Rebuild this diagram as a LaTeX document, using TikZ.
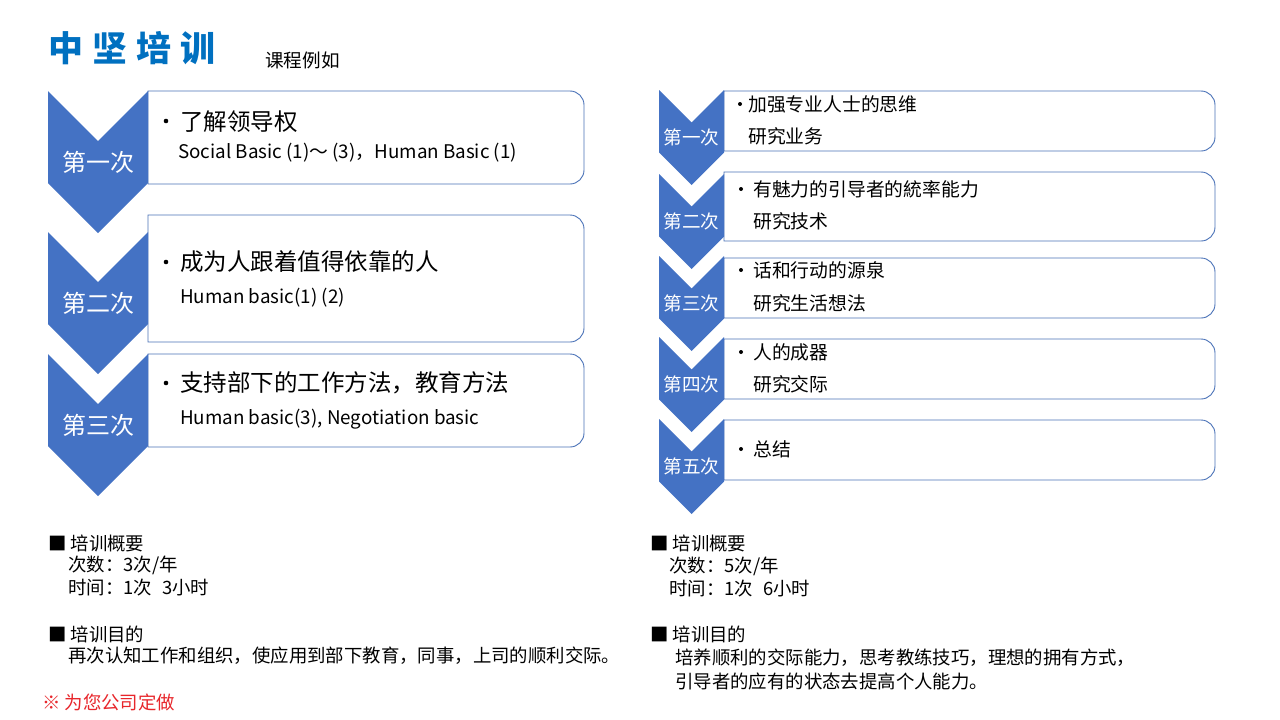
\documentclass[tikz,border=0pt]{standalone}
\usepackage{fontspec}
\setmainfont{Noto Sans CJK SC}
\definecolor{chev}{HTML}{4472C4}
\definecolor{boxln}{HTML}{4A72B8}
\definecolor{ttl}{HTML}{0070C0}
\definecolor{redt}{HTML}{E8262B}
\newcommand\fs[1]{\fontsize{#1}{#1}\selectfont}
% chevron: x, top, width, height
\newcommand\chevshape[4]{%
  \fill[chev] (#1,#2) -- ({#1+#3/2},{#2+#3/2}) -- ({#1+#3},#2) -- ({#1+#3},{#2+#4-#3/2})
    -- ({#1+#3/2},{#2+#4}) -- (#1,{#2+#4-#3/2}) -- cycle;}
% box with rounded right corners: x0, y0, x1, y1
\newcommand\rbox[4]{%
  \draw[boxln, line width=0.9pt] (#1,#2) -- ({#3-14},#2) arc[start angle=270,end angle=360,radius=14]
    -- (#3,{#4-14}) arc[start angle=0,end angle=90,radius=14] -- (#1,#4) -- cycle;}
\tikzset{
  txt/.style={anchor=west, inner sep=0pt, text=black},
  bigt/.style={txt, font=\fs{23.5}},
  subt/.style={txt, font=\fs{18.8}},
  rt/.style={txt, font=\fs{18.8}},
  bt/.style={txt, font=\fs{18.4}},
  dot/.style={circle, fill=black, inner sep=0pt, minimum size=4.6pt},
  lchev/.style={inner sep=0pt, text=white, font=\fs{24}},
  rchev/.style={inner sep=0pt, text=white, font=\fs{18.6}},
}
\begin{document}
\begin{tikzpicture}[x=1pt, y=-1pt]
\useasboundingbox (0,0) rectangle (1280,720);
\fill[white] (0,0) rectangle (1280,720);

% title
\node[txt, text=ttl, font=\fs{35}\bfseries] (title) at (48,48) {中\hspace{9pt}坚\hspace{9pt}培\hspace{9pt}训};
\node[txt, font=\fs{18.6}] (sub) at (265,60) {课程例如};

% ---------- left column ----------
\rbox{148}{91}{584}{184}
\rbox{148}{215}{584}{342}
\rbox{148}{354}{584}{447}
\chevshape{48}{91}{100}{142}
\chevshape{48}{232}{100}{142}
\chevshape{48}{354}{100}{142}
\node[lchev] (lc1) at (98,162) {第一次};
\node[lchev] (lc2) at (98,303) {第二次};
\node[lchev] (lc3) at (98,425) {第三次};

\node[dot] (lb1) at (166,121) {};
\node[bigt] (l1) at (180,122) {了解领导权};
\node[subt] (l1s) at (178,153) {Social Basic (1)～ (3)，Human Basic (1)};
\node[dot] (lb2) at (166,262) {};
\node[bigt] (l2) at (180,262) {成为人跟着值得依靠的人};
\node[subt] (l2s) at (180,298) {Human basic(1) (2)};
\node[dot] (lb3) at (166,383) {};
\node[bigt] (l3) at (180,383) {支持部下的工作方法，教育方法};
\node[subt] (l3s) at (180,419) {Human basic(3), Negotiation basic};

% ---------- right column ----------
\rbox{724}{91}{1215}{151}
\rbox{724}{172}{1215}{241}
\rbox{724}{258}{1215}{318}
\rbox{724}{339}{1215}{399}
\rbox{724}{420}{1215}{480}
\chevshape{659}{90}{65}{95}
\chevshape{659}{174}{65}{95}
\chevshape{659}{256}{65}{95}
\chevshape{659}{337}{65}{95}
\chevshape{659}{419}{65}{95}
\node[rchev] (rc1) at (691.5,137) {第一次};
\node[rchev] (rc2) at (691.5,221) {第二次};
\node[rchev] (rc3) at (691.5,303) {第三次};
\node[rchev] (rc4) at (691.5,384) {第四次};
\node[rchev] (rc5) at (691.5,466) {第五次};

\node[dot, minimum size=4pt] (rb1) at (740,104) {};
\node[rt] (r1) at (748,104) {加强专业人士的思维};
\node[rt] (r1s) at (748,136) {研究业务};
\node[dot, minimum size=4pt] (rb2) at (741,189) {};
\node[rt] (r2) at (753,189) {有魅力的引导者的統率能力};
\node[rt] (r2s) at (753,221) {研究技术};
\node[dot, minimum size=4pt] (rb3) at (741,270) {};
\node[rt] (r3) at (753,270) {话和行动的源泉};
\node[rt] (r3s) at (753,303) {研究生活想法};
\node[dot, minimum size=4pt] (rb4) at (741,352) {};
\node[rt] (r4) at (753,352) {人的成器};
\node[rt] (r4s) at (753,384) {研究交际};
\node[dot, minimum size=4pt] (rb5) at (741,449) {};
\node[rt] (r5) at (753,449) {总结};

% ---------- bottom left ----------
\node[bt] (la) at (48,543) {■ 培训概要};
\node[bt] (lb) at (68,565) {次数：3次/年};
\node[bt] (lcx) at (68,588) {时间：1次\hspace{10pt}3小时};
\node[bt] (ld) at (48,634) {■ 培训目的};
\node[bt] (le) at (68,656) {再次认知工作和组织，使应用到部下教育，同事，上司的顺利交际。};
\node[bt, text=redt] (lf) at (42,702) {※ 为您公司定做};

% ---------- bottom right ----------
\node[bt] (ra) at (650,543) {■ 培训概要};
\node[bt] (rbx) at (669,566) {次数：5次/年};
\node[bt] (rcx) at (669,589) {时间：1次\hspace{10pt}6小时};
\node[bt] (rd) at (650,634) {■ 培训目的};
\node[bt] (re) at (675,658) {培养顺利的交际能力，思考教练技巧，理想的拥有方式，};
\node[bt] (rf) at (675,681) {引导者的应有的状态去提高个人能力。};
\end{tikzpicture}
\end{document}
